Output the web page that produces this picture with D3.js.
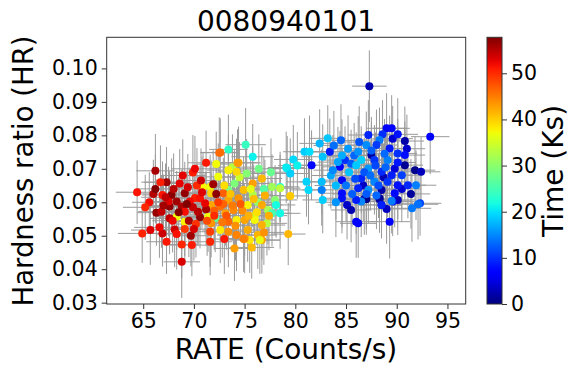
<!DOCTYPE html>
<meta charset="utf-8">
<script src="https://d3js.org/d3.v7.min.js"></script>
<style>
  body { margin: 0; background: #fff; }
  text { font-family: "DejaVu Sans", sans-serif; fill: #000; }
</style>
<div id="my_dataviz"></div>
<script>

// rows: [rate (counts/s), hardness ratio, time (ks), rate error, HR error]
// late part of the observation (dark red / red)
var redLate = [
  [64.4,.0630,51.5,2.1,.0095],[66.2,.0694,55.8,1.9,.0110],[67.3,.0660,56.4,2.2,.0105],
  [69.9,.0689,50.8,1.8,.0112],[70.1,.0700,52.4,2.3,.0098],[66.0,.0625,55.1,2.0,.0102],
  [65.6,.0600,51.9,1.7,.0090],[64.9,.0507,50.6,2.4,.0088],[65.7,.0517,53.0,1.9,.0104],
  [67.3,.0482,51.2,2.0,.0096],[68.8,.0474,50.3,1.6,.0101],[69.8,.0472,51.0,2.2,.0093],
  [68.8,.0422,53.3,1.8,.0108],[66.9,.0507,54.0,2.1,.0099],[66.6,.0525,52.2,2.5,.0091],
  [67.6,.0552,54.7,1.9,.0107],[68.1,.0519,53.8,2.0,.0113],[69.1,.0520,49.2,1.7,.0097],
  [68.6,.0656,52.7,2.3,.0103],[69.1,.0627,56.9,1.8,.0094],[67.8,.0622,57.3,2.2,.0109],
  [66.9,.0622,51.4,2.0,.0100],[68.3,.0602,56.1,1.9,.0092],[67.6,.0587,57.0,2.4,.0106],
  [68.8,.0587,55.5,1.8,.0111],[69.1,.0572,51.8,2.1,.0098],[67.5,.0602,52.9,1.7,.0104],
  [70.1,.0613,50.9,2.0,.0095],[69.6,.0602,52.0,2.2,.0102],[66.3,.0569,56.6,1.9,.0099],
  [66.8,.0572,54.4,2.3,.0108],[71.2,.0718,51.1,1.8,.0096],[71.9,.0654,56.2,2.1,.0101],
  [71.2,.0579,55.9,1.9,.0110],[70.6,.0555,56.8,2.0,.0093],[71.6,.0482,50.4,2.2,.0100],
  [71.6,.0512,48.8,1.7,.0105],[70.6,.0612,51.6,2.0,.0097],[70.4,.0572,55.2,1.9,.0103],
  [71.1,.0597,52.6,2.1,.0094],[68.0,.0640,54.9,2.0,.0106],[69.4,.0645,53.6,1.8,.0099],
  [70.3,.0650,50.1,2.2,.0112],[67.0,.0590,56.0,1.9,.0093],[68.5,.0570,57.5,2.1,.0104],
  [69.9,.0585,54.2,1.7,.0098],[70.8,.0630,53.1,2.3,.0107],[67.9,.0545,52.3,2.0,.0095],
  [69.5,.0545,55.7,1.8,.0109],[70.2,.0535,49.6,2.1,.0100],[66.2,.0640,57.6,1.9,.0103],
  [65.2,.0585,50.2,2.2,.0097],[68.3,.0505,51.7,2.0,.0106],[69.7,.0500,56.3,1.8,.0092],
  [67.2,.0615,54.6,2.4,.0101],[71.3,.0545,47.9,1.9,.0105],[70.7,.0665,54.0,2.0,.0096],
  [68.9,.0680,52.8,2.2,.0108],[72.4,.0600,49.0,1.8,.0099],[72.0,.0560,50.0,2.0,.0102],
  [70.0,.0520,53.5,2.1,.0094],[66.7,.0660,50.7,1.9,.0110],[72.2,.0625,57.1,2.0,.0097],
  [73.0,.0490,51.3,1.8,.0104],[69.3,.0595,57.7,2.0,.0100]
];

// orange / yellow
var orangeMid = [
  [72.6,.0749,45.5,1.9,.0102],[72.2,.0714,37.2,2.0,.0097],[74.4,.0718,42.0,2.2,.0108],
  [74.2,.0691,39.5,1.8,.0099],[73.4,.0696,37.8,2.1,.0105],[76.7,.0671,41.3,2.0,.0094],
  [75.8,.0656,42.8,1.9,.0111],[72.4,.0676,37.0,2.2,.0100],[71.6,.0646,36.8,1.7,.0096],
  [70.9,.0646,37.5,2.0,.0103],[71.7,.0627,39.8,2.1,.0098],[72.6,.0587,45.8,1.9,.0107],
  [73.4,.0607,42.5,2.0,.0095],[74.4,.0612,43.6,2.3,.0104],[74.9,.0637,41.0,1.8,.0099],
  [76.7,.0592,42.2,2.0,.0102],[75.3,.0592,37.6,2.1,.0093],[73.9,.0577,44.1,1.9,.0110],
  [73.1,.0567,43.0,2.2,.0097],[71.4,.0557,37.1,1.8,.0105],[73.4,.0542,46.4,2.0,.0100],
  [74.2,.0547,37.9,2.1,.0096],[75.0,.0547,42.6,1.9,.0108],[76.0,.0547,37.4,2.0,.0094],
  [76.7,.0532,41.8,2.3,.0103],[72.6,.0517,38.2,1.8,.0099],[73.4,.0512,43.9,2.0,.0106],
  [75.3,.0517,42.1,2.2,.0095],[76.3,.0502,41.5,1.9,.0101],[75.5,.0487,38.6,2.0,.0098],
  [75.0,.0492,43.3,2.1,.0104],[76.7,.0487,42.7,1.8,.0100],[74.0,.0462,42.9,2.0,.0097],
  [75.7,.0465,41.2,2.2,.0093],[74.2,.0502,44.6,1.9,.0108],[71.7,.0537,43.4,2.0,.0102],
  [71.7,.0592,42.4,1.8,.0096],[72.9,.0627,46.8,2.1,.0105],[68.3,.0557,37.0,2.0,.0099],
  [69.1,.0542,37.7,1.9,.0103],[70.4,.0572,42.3,2.2,.0097],[79.5,.0619,40.2,1.8,.0100],
  [79.3,.0505,41.4,1.7,.0093],[76.5,.0487,36.4,2.0,.0101],[74.9,.0490,44.8,2.1,.0098],
  [72.5,.0748,46.1,1.9,.0106],[74.3,.0718,43.1,2.0,.0100],[73.8,.0590,45.1,2.0,.0103],
  [74.8,.0575,44.0,1.9,.0097],[72.9,.0595,46.6,2.1,.0108],[73.6,.0625,40.6,1.8,.0095],
  [75.9,.0610,40.9,2.2,.0101],[74.6,.0595,47.2,2.0,.0106],[72.0,.0575,46.9,1.9,.0099],
  [73.2,.0560,47.5,2.0,.0102],[75.4,.0560,41.7,2.1,.0096],[74.1,.0530,43.8,1.8,.0104],
  [76.2,.0570,38.9,2.0,.0098],[77.0,.0620,41.9,1.9,.0107],[75.6,.0640,36.2,2.1,.0094],
  [73.0,.0650,39.1,2.0,.0100],[77.4,.0560,42.0,1.8,.0103],[76.9,.0510,43.7,2.0,.0097],
  [72.8,.0540,45.3,2.2,.0105]
];

// green / cyan-green
var greenMid = [
  [73.4,.0758,23.5,1.9,.0104],[75.1,.0772,24.0,2.0,.0110],[75.8,.0736,21.0,2.1,.0098],
  [75.2,.0686,29.5,1.8,.0103],[77.7,.0646,31.5,2.0,.0097],[78.5,.0646,22.0,1.9,.0105],
  [74.0,.0656,29.0,2.2,.0100],[73.4,.0637,28.5,1.8,.0108],[75.8,.0622,32.5,2.0,.0095],
  [77.3,.0577,32.0,2.1,.0102],[77.7,.0567,25.0,1.9,.0099],[78.5,.0567,21.5,2.0,.0106],
  [72.1,.0552,27.0,1.8,.0101],[77.2,.0537,33.0,2.0,.0096],[78.0,.0607,29.8,2.2,.0104],
  [78.1,.0592,21.8,1.9,.0098],[79.1,.0704,20.5,1.8,.0107],[78.5,.0642,33.5,2.0,.0100],
  [76.4,.0700,28.0,2.1,.0103],[76.9,.0640,26.0,1.9,.0097],[74.5,.0675,34.5,2.0,.0105],
  [77.6,.0690,27.5,1.8,.0101],[76.3,.0600,30.5,2.0,.0099],[76.0,.0560,33.8,2.1,.0106],
  [73.8,.0705,33.0,1.9,.0098]
];

// cyan transition
var cyanEarly = [
  [79.8,.0728,19.5,1.9,.0103],[79.2,.0701,20.2,2.0,.0097],[79.5,.0686,19.0,1.8,.0105],
  [80.9,.0751,18.8,2.1,.0100],[81.4,.0751,19.8,1.9,.0108],[82.4,.0776,17.5,2.0,.0102],
  [83.2,.0791,18.5,1.8,.0099],[81.1,.0661,19.2,2.0,.0104],[82.6,.0661,18.0,2.2,.0096],
  [82.6,.0637,14.5,1.9,.0107],[82.7,.0607,18.9,2.0,.0100],[81.3,.0637,19.6,1.8,.0103],
  [82.7,.0736,18.2,2.1,.0097],[83.7,.0696,15.0,1.9,.0105],[86.5,.0726,19.0,2.0,.0101],
  [86.0,.0711,18.6,1.8,.0098],[86.2,.0751,15.5,2.0,.0106],[80.2,.0710,21.0,1.9,.0100],
  [84.0,.0650,17.8,2.1,.0102],[85.3,.0690,18.3,1.9,.0096],[84.6,.0740,17.0,2.0,.0108]
];

// blue / light blue
var blueEarly = [
  [81.6,.0711,7.5,1.9,.0104],[83.4,.0751,8.5,2.0,.0099],[84.4,.0706,6.8,1.8,.0107],
  [84.9,.0726,10.0,2.1,.0101],[84.6,.0666,7.2,2.0,.0096],[84.6,.0612,8.0,1.9,.0105],
  [86.0,.0542,7.0,2.0,.0108],[86.2,.0537,6.5,1.8,.0103],[89.3,.0542,6.2,2.0,.0110],
  [91.5,.0582,14.0,1.9,.0100],[92.3,.0597,11.0,2.1,.0097],[91.9,.0651,14.5,2.0,.0104],
  [91.1,.0651,9.5,1.8,.0099],[84.6,.0627,7.8,2.0,.0102],[86.5,.0602,14.8,1.9,.0106],
  [88.5,.0592,9.0,2.0,.0098],[89.6,.0602,7.6,2.1,.0103],[86.0,.0607,8.8,1.9,.0101],
  [89.0,.0821,6.0,2.0,.0105],[89.5,.0821,7.3,1.8,.0099],[90.1,.0803,8.2,2.0,.0108],
  [88.6,.0803,9.8,1.9,.0102],[88.3,.0786,14.2,2.0,.0097],[93.3,.0796,7.0,1.9,.0112],
  [87.2,.0801,9.2,2.0,.0104],[87.0,.0771,15.2,1.8,.0100],[88.0,.0771,10.5,2.1,.0106],
  [89.3,.0761,8.6,2.0,.0098],[90.1,.0746,9.9,1.9,.0103],[90.8,.0741,7.9,2.0,.0101],
  [87.8,.0726,10.2,1.9,.0105],[89.1,.0726,14.6,2.0,.0099],[90.1,.0719,8.4,1.8,.0107],
  [87.2,.0701,15.8,2.0,.0102],[88.5,.0691,9.6,1.9,.0097],[89.5,.0681,8.9,2.1,.0104],
  [90.5,.0681,10.8,2.0,.0100],[86.5,.0671,9.3,1.9,.0103],[87.8,.0661,14.9,2.0,.0098],
  [89.1,.0661,10.1,1.8,.0106],[90.1,.0651,8.1,2.0,.0101],[86.2,.0642,9.1,1.9,.0104],
  [87.2,.0637,15.4,2.0,.0099],[89.8,.0627,7.7,2.1,.0102],[89.5,.0604,14.3,1.9,.0097],
  [92.1,.0594,13.6,2.0,.0105],[83.8,.0770,13.5,2.0,.0103],[84.5,.0785,12.8,1.9,.0108],
  [85.2,.0760,16.0,2.0,.0100],[85.8,.0740,13.0,1.8,.0097],[84.2,.0720,16.5,2.0,.0105],
  [85.5,.0715,12.2,2.1,.0102],[83.5,.0680,16.8,1.9,.0099],[85.0,.0650,13.8,2.0,.0106],
  [85.9,.0670,11.5,1.8,.0101],[84.0,.0600,15.6,2.0,.0104],[85.6,.0625,12.5,1.9,.0098],
  [86.8,.0690,12.0,2.0,.0103],[86.3,.0780,11.8,1.9,.0107],[87.5,.0755,12.6,2.0,.0100],
  [88.8,.0745,13.2,1.8,.0104],[87.9,.0710,11.2,2.0,.0099],[88.9,.0705,12.9,1.9,.0105],
  [87.4,.0680,13.4,2.1,.0102],[88.2,.0650,11.6,1.9,.0097],[87.0,.0625,12.3,2.0,.0106],
  [88.0,.0620,13.1,1.8,.0100]
];

// start of the observation (dark blue)
var darkBlueStart = [
  [87.3,.0947,2.5,1.7,.0107],[90.8,.0783,2.0,1.9,.0103],[87.5,.0741,1.5,2.0,.0098],
  [90.8,.0711,1.0,1.8,.0106],[91.8,.0696,0.5,2.0,.0101],[92.4,.0691,3.0,1.9,.0104],
  [88.5,.0637,2.2,2.0,.0099],[86.8,.0610,1.8,1.9,.0107],[88.3,.0612,0.8,2.0,.0102],
  [90.1,.0607,2.8,1.8,.0105],[88.5,.0592,1.2,2.0,.0100],[85.1,.0592,3.5,1.9,.0103],
  [85.5,.0577,2.4,2.0,.0097],[87.0,.0609,0.3,1.9,.0106],[88.3,.0609,1.6,2.0,.0100],
  [89.0,.0580,3.2,2.1,.0104],[90.5,.0640,4.0,1.9,.0099],[89.8,.0700,4.5,2.0,.0105],
  [91.0,.0760,3.8,1.8,.0102],[89.6,.0790,4.2,2.0,.0098],[86.7,.0650,3.3,1.9,.0106],
  [88.7,.0675,2.6,2.0,.0101],[91.4,.0625,1.4,1.9,.0104]
];

var xTicks = [65, 70, 75, 80, 85, 90, 95];
var yTicks = [0.03, 0.04, 0.05, 0.06, 0.07, 0.08, 0.09, 0.10];
var cTicks = [0, 10, 20, 30, 40, 50];

var points = [].concat(darkBlueStart, blueEarly, cyanEarly, greenMid, orangeMid, redLate)
  .map(function(r){ return {rate: r[0], hr: r[1], t: r[2], dx: r[3], dy: r[4]}; });

var width = 578, height = 367;
var plotL = 106.7, plotR = 465.7, plotT = 37.3, plotB = 304;

var svg = d3.select("#my_dataviz").append("svg")
    .attr("width", width)
    .attr("height", height);

var x = d3.scaleLinear().domain([61.4, 96.8]).range([plotL, plotR]);
var y = d3.scaleLinear().domain([0.0296, 0.1093]).range([plotB, plotT]);

// jet colormap (matplotlib segment data)
var jr = d3.scaleLinear().domain([0, .35, .66, .89, 1]).range([0, 0, 1, 1, .5]).clamp(true);
var jg = d3.scaleLinear().domain([0, .125, .375, .64, .91, 1]).range([0, 0, 1, 1, 0, 0]).clamp(true);
var jb = d3.scaleLinear().domain([0, .11, .34, .65, 1]).range([.5, 1, 1, 0, 0]).clamp(true);
var tMax = 57.8;
function jet(v) {
  var f = Math.max(0, Math.min(1, v / tMax));
  return d3.rgb(jr(f) * 255, jg(f) * 255, jb(f) * 255).formatHex();
}

// error bars
var eb = svg.append("g").attr("stroke", "#9a9a9a").attr("stroke-width", 1);
eb.selectAll("line.v").data(points).enter().append("line")
    .attr("x1", function(d){ return x(d.rate); })
    .attr("x2", function(d){ return x(d.rate); })
    .attr("y1", function(d){ return y(d.hr - d.dy); })
    .attr("y2", function(d){ return y(d.hr + d.dy); });
eb.selectAll("line.h").data(points).enter().append("line")
    .attr("x1", function(d){ return x(d.rate - d.dx); })
    .attr("x2", function(d){ return x(d.rate + d.dx); })
    .attr("y1", function(d){ return y(d.hr); })
    .attr("y2", function(d){ return y(d.hr); });

// points
svg.append("g").selectAll("circle").data(points).enter().append("circle")
    .attr("cx", function(d){ return x(d.rate); })
    .attr("cy", function(d){ return y(d.hr); })
    .attr("r", 4)
    .attr("fill", function(d){ return jet(d.t); });

// frame
svg.append("rect")
    .attr("x", plotL).attr("y", plotT)
    .attr("width", plotR - plotL).attr("height", plotB - plotT)
    .attr("fill", "none").attr("stroke", "#333").attr("stroke-width", 1);

// axes
var xAxis = svg.append("g").attr("transform", "translate(0," + plotB + ")")
    .call(d3.axisBottom(x).tickValues(xTicks).tickSize(5).tickPadding(4));
var yAxis = svg.append("g").attr("transform", "translate(" + plotL + ",0)")
    .call(d3.axisLeft(y).tickValues(yTicks).tickFormat(d3.format(".2f")).tickSize(5).tickPadding(4));
[xAxis, yAxis].forEach(function(a){
  a.select(".domain").remove();
  a.selectAll(".tick line").attr("stroke", "#333");
  a.selectAll(".tick text").style("font-size", "20.5px").attr("fill", "#000");
});

// labels
svg.append("text").attr("x", 286).attr("y", 31)
    .attr("text-anchor", "middle").style("font-size", "28px").text("0080940101");
svg.append("text").attr("x", 286).attr("y", 359)
    .attr("text-anchor", "middle").style("font-size", "28px").text("RATE (Counts/s)");
svg.append("text").attr("transform", "translate(33,171) rotate(-90)")
    .attr("text-anchor", "middle").style("font-size", "27.5px").text("Hardness ratio (HR)");

// colorbar
var cbX = 487, cbW = 15;
var c = d3.scaleLinear().domain([0, tMax]).range([plotB, plotT]);
var grad = svg.append("defs").append("linearGradient")
    .attr("id", "jetGrad").attr("x1", 0).attr("y1", 1).attr("x2", 0).attr("y2", 0);
d3.range(0, 1.0001, 0.02).forEach(function(f){
  grad.append("stop").attr("offset", f).attr("stop-color", jet(f * tMax));
});
svg.append("rect").attr("x", cbX).attr("y", plotT)
    .attr("width", cbW).attr("height", plotB - plotT)
    .attr("fill", "url(#jetGrad)").attr("stroke", "#333").attr("stroke-width", 1);
var cAxis = svg.append("g").attr("transform", "translate(" + (cbX + cbW) + ",0)")
    .call(d3.axisRight(c).tickValues(cTicks).tickSize(5).tickPadding(4));
cAxis.select(".domain").remove();
cAxis.selectAll(".tick line").attr("stroke", "#333");
cAxis.selectAll(".tick text").style("font-size", "20.5px").attr("fill", "#000");
svg.append("text").attr("transform", "translate(563,171) rotate(-90)")
    .attr("text-anchor", "middle").style("font-size", "28px").text("Time (Ks)");

</script>
